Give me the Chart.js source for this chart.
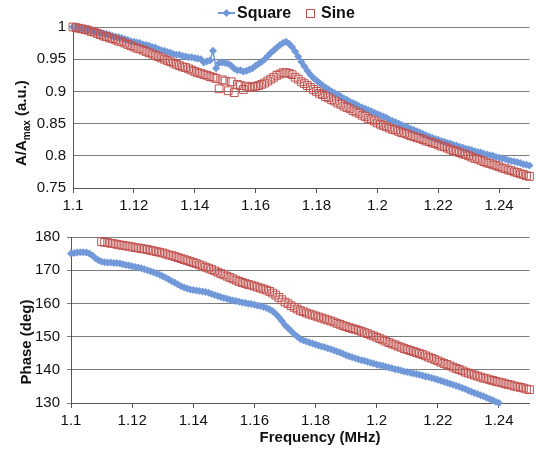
<!DOCTYPE html>
<html>
<head>
<meta charset="utf-8">
<script src="https://cdn.jsdelivr.net/npm/chart.js@4"></script>
<style>
  body { margin: 0; background: #fff; overflow: hidden; }
  #wrap { position: relative; width: 536px; height: 449px; }
  canvas { position: absolute; left: 0; }
  #Amp { top: 0; }
  #Phase { top: 215px; }
</style>
</head>
<body>
<div id="wrap">
  <canvas id="Amp" width="536" height="215"></canvas>
  <canvas id="Phase" width="536" height="234"></canvas>
</div>
<script>
// frequency (MHz), one point per kHz
let freq = [
  1.100,
  1.101, 1.102, 1.103, 1.104, 1.105, 1.106, 1.107, 1.108, 1.109, 1.110,
  1.111, 1.112, 1.113, 1.114, 1.115, 1.116, 1.117, 1.118, 1.119, 1.120,
  1.121, 1.122, 1.123, 1.124, 1.125, 1.126, 1.127, 1.128, 1.129, 1.130,
  1.131, 1.132, 1.133, 1.134, 1.135, 1.136, 1.137, 1.138, 1.139, 1.140,
  1.141, 1.142, 1.143, 1.144, 1.145, 1.146, 1.147, 1.148, 1.149, 1.150,
  1.151, 1.152, 1.153, 1.154, 1.155, 1.156, 1.157, 1.158, 1.159, 1.160,
  1.161, 1.162, 1.163, 1.164, 1.165, 1.166, 1.167, 1.168, 1.169, 1.170,
  1.171, 1.172, 1.173, 1.174, 1.175, 1.176, 1.177, 1.178, 1.179, 1.180,
  1.181, 1.182, 1.183, 1.184, 1.185, 1.186, 1.187, 1.188, 1.189, 1.190,
  1.191, 1.192, 1.193, 1.194, 1.195, 1.196, 1.197, 1.198, 1.199, 1.200,
  1.201, 1.202, 1.203, 1.204, 1.205, 1.206, 1.207, 1.208, 1.209, 1.210,
  1.211, 1.212, 1.213, 1.214, 1.215, 1.216, 1.217, 1.218, 1.219, 1.220,
  1.221, 1.222, 1.223, 1.224, 1.225, 1.226, 1.227, 1.228, 1.229, 1.230,
  1.231, 1.232, 1.233, 1.234, 1.235, 1.236, 1.237, 1.238, 1.239, 1.240,
  1.241, 1.242, 1.243, 1.244, 1.245, 1.246, 1.247, 1.248, 1.249, 1.250
];

let square_amp = [
  1.000,
  0.999, 0.998, 0.997, 0.996, 0.995, 0.994, 0.993, 0.992, 0.991, 0.990,
  0.989, 0.988, 0.986, 0.985, 0.984, 0.983, 0.981, 0.980, 0.978, 0.977,
  0.976, 0.975, 0.973, 0.972, 0.971, 0.969, 0.968, 0.966, 0.964, 0.963,
  0.961, 0.960, 0.958, 0.957, 0.957, 0.955, 0.954, 0.953, 0.953, 0.952,
  0.951, 0.950, 0.945, 0.947, 0.948, 0.963, 0.936, 0.944, 0.945, 0.944,
  0.943, 0.940, 0.935, 0.933, 0.933, 0.931, 0.932, 0.934, 0.936, 0.940,
  0.943, 0.946, 0.950, 0.955, 0.960, 0.964, 0.968, 0.972, 0.975, 0.977,
  0.974, 0.969, 0.962, 0.954, 0.946, 0.939, 0.932, 0.926, 0.921, 0.917,
  0.913, 0.909, 0.906, 0.903, 0.900, 0.897, 0.895, 0.892, 0.889, 0.887,
  0.884, 0.882, 0.880, 0.877, 0.875, 0.873, 0.871, 0.869, 0.867, 0.865,
  0.863, 0.861, 0.859, 0.856, 0.854, 0.852, 0.850, 0.848, 0.846, 0.844,
  0.842, 0.840, 0.838, 0.836, 0.834, 0.832, 0.830, 0.828, 0.826, 0.825,
  0.823, 0.822, 0.820, 0.819, 0.817, 0.816, 0.814, 0.813, 0.811, 0.810,
  0.809, 0.807, 0.806, 0.805, 0.803, 0.802, 0.801, 0.800, 0.798, 0.797,
  0.796, 0.795, 0.793, 0.792, 0.791, 0.790, 0.789, 0.787, 0.786, 0.785
];

let sine_amp = [
  1.000,
  0.999, 0.998, 0.997, 0.996, 0.995, 0.993, 0.992, 0.990, 0.988, 0.986,
  0.985, 0.983, 0.982, 0.980, 0.978, 0.977, 0.975, 0.973, 0.971, 0.969,
  0.967, 0.966, 0.964, 0.962, 0.960, 0.958, 0.956, 0.954, 0.952, 0.950,
  0.948, 0.946, 0.944, 0.942, 0.940, 0.938, 0.937, 0.935, 0.933, 0.931,
  0.929, 0.928, 0.926, 0.925, 0.923, 0.922, 0.920, 0.904, 0.918, 0.916,
  0.901, 0.915, 0.898, 0.911, 0.909, 0.903, 0.908, 0.906, 0.907, 0.908,
  0.909, 0.911, 0.913, 0.916, 0.919, 0.922, 0.925, 0.927, 0.929, 0.929,
  0.928, 0.926, 0.922, 0.919, 0.915, 0.912, 0.909, 0.906, 0.903, 0.900,
  0.897, 0.895, 0.892, 0.890, 0.887, 0.885, 0.882, 0.880, 0.877, 0.875,
  0.873, 0.870, 0.868, 0.866, 0.863, 0.861, 0.858, 0.856, 0.854, 0.851,
  0.849, 0.847, 0.845, 0.843, 0.841, 0.840, 0.838, 0.836, 0.835, 0.833,
  0.831, 0.830, 0.828, 0.827, 0.825, 0.823, 0.822, 0.820, 0.819, 0.817,
  0.815, 0.814, 0.812, 0.810, 0.808, 0.807, 0.805, 0.803, 0.802, 0.800,
  0.798, 0.796, 0.795, 0.793, 0.791, 0.789, 0.788, 0.786, 0.785, 0.783,
  0.781, 0.780, 0.778, 0.777, 0.775, 0.774, 0.772, 0.771, 0.769, 0.768
];

let square_phase = [
  175.0,
  175.2, 175.3, 175.4, 175.4, 175.3, 175.0, 174.4, 173.6, 173.0, 172.6,
  172.4, 172.3, 172.3, 172.2, 172.2, 172.0, 171.8, 171.6, 171.4, 171.2,
  171.0, 170.8, 170.6, 170.3, 170.0, 169.7, 169.4, 169.0, 168.6, 168.2,
  167.7, 167.2, 166.7, 166.2, 165.7, 165.2, 164.8, 164.5, 164.2, 164.0,
  163.9, 163.7, 163.6, 163.4, 163.2, 162.8, 162.5, 162.2, 161.9, 161.6,
  161.4, 161.1, 160.9, 160.7, 160.5, 160.3, 160.1, 159.9, 159.8, 159.6,
  159.4, 159.2, 158.9, 158.6, 158.2, 157.6, 156.8, 155.8, 154.7, 153.5,
  152.6, 151.7, 150.8, 150.0, 149.3, 148.9, 148.5, 148.2, 147.9, 147.6,
  147.3, 147.0, 146.8, 146.5, 146.2, 145.9, 145.5, 145.2, 144.8, 144.4,
  144.1, 143.8, 143.5, 143.2, 142.9, 142.7, 142.4, 142.1, 141.9, 141.6,
  141.4, 141.2, 140.9, 140.7, 140.5, 140.2, 140.0, 139.8, 139.5, 139.3,
  139.1, 138.9, 138.7, 138.5, 138.3, 138.0, 137.8, 137.5, 137.3, 137.0,
  136.7, 136.4, 136.1, 135.8, 135.5, 135.2, 134.9, 134.5, 134.2, 133.8,
  133.4, 133.0, 132.7, 132.3, 132.0, 131.6, 131.2, 130.8, 130.4, 130.0,
  null, null, null, null, null, null, null, null, null, null
];

let sine_phase = [
  null,
  null, null, null, null, null, null, null, null, null, 178.6,
  178.4, 178.3, 178.1, 178.0, 177.8, 177.6, 177.5, 177.3, 177.2, 177.0,
  176.8, 176.7, 176.5, 176.4, 176.2, 176.0, 175.8, 175.6, 175.4, 175.2,
  174.9, 174.6, 174.4, 174.1, 173.8, 173.5, 173.2, 172.9, 172.6, 172.3,
  172.0, 171.6, 171.3, 170.9, 170.6, 170.2, 169.8, 169.4, 169.0, 168.6,
  168.2, 167.8, 167.4, 167.0, 166.6, 166.3, 166.0, 165.7, 165.5, 165.2,
  164.9, 164.6, 164.3, 164.0, 163.6, 163.1, 162.5, 161.8, 161.1, 160.4,
  159.9, 159.3, 158.8, 158.3, 157.8, 157.5, 157.1, 156.8, 156.5, 156.2,
  155.9, 155.6, 155.3, 155.0, 154.7, 154.4, 154.0, 153.7, 153.3, 153.0,
  152.7, 152.4, 152.2, 151.9, 151.6, 151.2, 150.9, 150.5, 150.2, 149.8,
  149.4, 149.0, 148.6, 148.2, 147.8, 147.5, 147.1, 146.8, 146.4, 146.1,
  145.8, 145.5, 145.2, 144.9, 144.6, 144.2, 143.8, 143.5, 143.1, 142.7,
  142.3, 141.9, 141.6, 141.2, 140.8, 140.4, 140.1, 139.7, 139.3, 139.0,
  138.7, 138.4, 138.1, 137.8, 137.5, 137.3, 137.0, 136.8, 136.5, 136.3,
  136.1, 135.8, 135.6, 135.4, 135.1, 134.9, 134.7, 134.5, 134.2, 134.0
];

let x_ticks = [1.1, 1.12, 1.14, 1.16, 1.18, 1.2, 1.22, 1.24];
let amp_ticks = [0.75, 0.8, 0.85, 0.9, 0.95, 1];
let phase_ticks = [130, 140, 150, 160, 170, 180];

const BLUE = '#7199d9';
const RED = '#c0504d';
const FONT = "'Liberation Sans', Arial, Helvetica, sans-serif";

Chart.defaults.font.family = FONT;
Chart.defaults.color = '#111';
Chart.defaults.animation = false;

function toXY(ys) {
  return freq.map((x, i) => ({x: x, y: ys[i]}));
}

function fmt(v) {
  return String(Number(v.toFixed(2)));
}

function fixedTicks(list) {
  return function(scale) {
    scale.ticks = list.map(v => ({value: v}));
  };
}

function squareSet(ys) {
  return {
    label: 'Square',
    data: toXY(ys),
    borderColor: BLUE,
    backgroundColor: BLUE,
    borderWidth: 1.5,
    pointStyle: 'rectRot',
    pointRadius: 4,
    pointBorderWidth: 0,
    pointBackgroundColor: BLUE,
    showLine: true,
    tension: 0,
    clip: false,
    order: 1
  };
}

function sineSet(ys) {
  return {
    label: 'Sine',
    data: toXY(ys),
    borderColor: RED,
    backgroundColor: 'rgba(0,0,0,0)',
    borderWidth: 1,
    pointStyle: 'rect',
    pointRadius: 5.5,
    pointBorderWidth: 1,
    pointBorderColor: RED,
    pointBackgroundColor: 'rgba(0,0,0,0)',
    showLine: false,
    clip: false,
    order: 0
  };
}

function makeOptions(yMin, yMax, yTicks, yWidth, xHeight, padTop, yTickLen) {
  return {
    responsive: false,
    animation: false,
    layout: { padding: { top: padTop, left: 0, right: 0, bottom: 0 } },
    plugins: { legend: { display: false }, tooltip: { enabled: false } },
    scales: {
      x: {
        type: 'linear',
        min: 1.1,
        max: 1.25,
        afterBuildTicks: fixedTicks(x_ticks),
        afterFit: function(scale) { scale.height = xHeight; },
        grid: { drawOnChartArea: false, drawTicks: true, tickLength: 5, color: '#555' },
        border: { display: true, color: '#555', width: 1 },
        ticks: { font: { size: 15 }, padding: 4, maxRotation: 0, callback: fmt }
      },
      y: {
        min: yMin,
        max: yMax,
        afterBuildTicks: fixedTicks(yTicks),
        afterFit: function(scale) { scale.width = yWidth; },
        grid: { color: '#7a7a7a', drawTicks: yTickLen > 0, tickLength: yTickLen },
        border: { display: true, color: '#555', width: 1 },
        ticks: { font: { size: 15 }, padding: 7, callback: fmt }
      }
    }
  };
}

// legend and axis titles drawn by hand (subscript in the title)
const ampDecor = {
  id: 'ampDecor',
  afterDraw(chart) {
    const ctx = chart.ctx;
    ctx.save();
    // legend
    ctx.strokeStyle = BLUE;
    ctx.lineWidth = 2;
    ctx.beginPath();
    ctx.moveTo(218, 13);
    ctx.lineTo(235, 13);
    ctx.stroke();
    ctx.fillStyle = BLUE;
    ctx.beginPath();
    ctx.moveTo(226.5, 9);
    ctx.lineTo(230.5, 13);
    ctx.lineTo(226.5, 17);
    ctx.lineTo(222.5, 13);
    ctx.closePath();
    ctx.fill();
    ctx.strokeStyle = RED;
    ctx.lineWidth = 1;
    ctx.strokeRect(306.5, 9.5, 8, 8);
    ctx.fillStyle = '#111';
    ctx.font = 'bold 16px ' + FONT;
    ctx.textBaseline = 'middle';
    ctx.textAlign = 'left';
    ctx.fillText('Square', 237, 14);
    ctx.fillText('Sine', 321, 14);
    // y title with subscript
    ctx.translate(26, 166);
    ctx.rotate(-Math.PI / 2);
    ctx.textBaseline = 'alphabetic';
    ctx.font = 'bold 15px ' + FONT;
    ctx.fillText('A/A', 0, 0);
    let w = ctx.measureText('A/A').width;
    ctx.font = 'bold 10px ' + FONT;
    ctx.fillText('max', w, 4);
    w += ctx.measureText('max').width;
    ctx.font = 'bold 15px ' + FONT;
    ctx.fillText(' (a.u.)', w, 0);
    ctx.restore();
  }
};

const phaseDecor = {
  id: 'phaseDecor',
  afterDraw(chart) {
    const ctx = chart.ctx;
    ctx.save();
    ctx.fillStyle = '#111';
    ctx.font = 'bold 15px ' + FONT;
    ctx.textAlign = 'center';
    ctx.textBaseline = 'alphabetic';
    ctx.fillText('Frequency (MHz)', 320, 227);
    ctx.translate(31, 127);
    ctx.rotate(-Math.PI / 2);
    ctx.fillText('Phase (deg)', 0, 0);
    ctx.restore();
  }
};

let amp_chart = new Chart(document.getElementById('Amp'), {
  type: 'line',
  data: { datasets: [squareSet(square_amp), sineSet(sine_amp)] },
  options: makeOptions(0.75, 1, amp_ticks, 73, 27, 27, 0),
  plugins: [ampDecor]
});

let phase_chart = new Chart(document.getElementById('Phase'), {
  type: 'line',
  data: { datasets: [squareSet(square_phase), sineSet(sine_phase)] },
  options: makeOptions(130, 180, phase_ticks, 71, 46, 22, 4),
  plugins: [phaseDecor]
});
</script>
</body>
</html>
